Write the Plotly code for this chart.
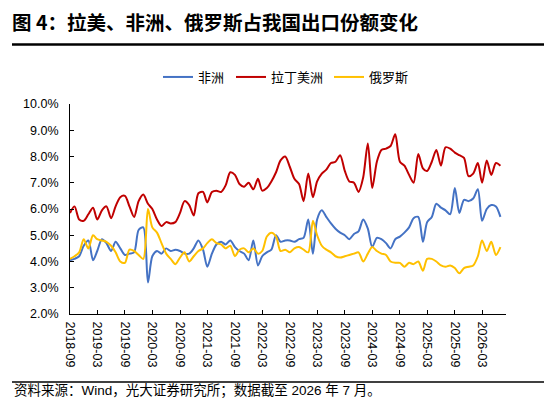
import pandas as pd
import plotly.graph_objects as go

# 占我国出口份额（%），月度，2018-09 至 2026-07
africa = [4.05, 4.1, 4.2, 4.6, 4.8, 4.05, 4.4, 4.85, 4.7, 4.4, 4.75, 4.5, 4.25, 4.3, 4.35, 5.2, 5.3, 3.2, 4.2, 4.4, 4.3, 4.5, 4.4,
          4.45, 4.4, 4.3, 4.3, 4.5, 4.8, 4.45, 3.8, 4.3, 4.65, 4.75, 4.65, 4.8, 4.55, 4.4, 4.3, 4.05, 4.8, 3.85, 4.2, 4.35, 4.45, 5.0, 4.75, 4.8,
          4.8, 4.75, 4.85, 4.9, 5.6, 4.3, 5.6, 5.95, 5.7, 5.45, 5.25, 5.1, 5.0, 4.85, 5.05, 5.15, 5.6, 5.25, 4.55, 4.9, 4.85, 4.7, 4.5, 4.85,
          4.95, 5.1, 5.3, 5.65, 5.7, 4.75, 5.5, 5.7, 6.2, 6.05, 5.95, 5.8, 6.8, 5.85, 6.35, 6.3, 6.4, 6.75, 5.55, 6.0, 6.15, 6.1, 5.7]
latam = [5.85, 6.1, 5.6, 5.55, 5.8, 6.05, 5.6, 5.95, 6.1, 5.65, 6.1, 6.45, 6.5, 6.1, 5.7, 6.3, 6.55, 6.2, 6.0, 5.6, 5.35, 5.5, 5.45,
         5.5, 5.85, 6.3, 6.15, 5.75, 6.6, 6.65, 6.25, 6.65, 6.7, 6.65, 6.9, 7.4, 7.3, 6.95, 6.85, 7.0, 6.75, 7.15, 6.7, 6.8, 7.05, 7.4, 7.85, 8.0,
         7.6, 7.15, 6.95, 6.3, 7.35, 6.45, 7.05, 7.35, 7.5, 7.75, 7.8, 8.05, 7.45, 7.05, 7.0, 6.65, 7.2, 8.5, 6.8, 7.8, 8.25, 8.3, 8.4, 8.85,
         7.8, 7.65, 7.3, 7.0, 8.1, 7.55, 7.45, 7.8, 8.25, 7.65, 8.35, 8.3, 8.15, 8.05, 7.95, 7.25, 7.35, 7.75, 7.0, 7.85, 7.3, 7.75, 7.65]
russia = [4.1, 4.2, 4.35, 4.85, 4.5, 5.0, 4.85, 4.8, 4.75, 4.6, 4.35, 4.0, 3.95, 4.45, 4.4, 4.25, 4.1, 6.0, 5.3, 5.1, 4.7, 4.3, 4.1, 3.9,
          4.15, 4.35, 4.0, 4.2, 4.4, 4.5, 4.7, 4.85, 4.7, 4.65, 4.5, 4.6, 4.2, 4.45, 4.5, 4.35, 4.5, 4.3, 4.4, 4.95, 5.1, 4.95, 4.4, 4.45,
          4.35, 4.5, 4.55, 4.45, 4.35, 5.55, 5.0, 4.6, 4.45, 4.35, 4.2, 4.15, 4.2, 4.25, 4.3, 4.35, 4.0, 4.3, 4.55, 4.4, 4.3, 4.25, 4.0, 3.95,
          3.95, 3.8, 3.95, 3.9, 4.0, 3.65, 4.1, 4.1, 4.0, 3.85, 3.8, 3.85, 3.75, 3.55, 3.75, 3.8, 3.85, 4.2, 4.8, 4.4, 4.75, 4.25, 4.55]

months = pd.date_range("2018-09-01", periods=len(africa), freq="MS")

series_names = ["非洲", "拉丁美洲", "俄罗斯"]
series_colors = ["#4472C4", "#C00000", "#FFC000"]

title_text = "图 4：拉美、非洲、俄罗斯占我国出口份额变化"
source_text = "资料来源：Wind，光大证券研究所；数据截至 2026 年 7 月。"

FONT = "Liberation Sans, Arial, Noto Sans CJK SC"

# 页面 body 有 8px 外边距，图形整体缩小 8px，按参考图像素换算
OFF = 8
W, H = 552 - OFF, 412 - OFF
L, R, T, B = 70 - OFF, 46, 104 - OFF, 98
PW, PH = W - L - R, H - T - B


def px_x(px):
    return (px - 70) / PW


def px_y(py):
    return (314 - py) / PH


fig = go.Figure()
legend_ids = ["legend", "legend2", "legend3"]
legend_left = [158, 231, 329]  # 各图例项左缘（参考图像素）
for name, vals, color, lg in zip(series_names, [africa, latam, russia], series_colors, legend_ids):
    fig.add_trace(go.Scatter(
        x=months, y=vals, name=name, mode="lines", legend=lg,
        line=dict(color=color, width=2, shape="spline", smoothing=0.8),
    ))

for lg, left in zip(legend_ids, legend_left):
    fig.update_layout({lg: dict(
        orientation="h", x=px_x(left), xanchor="left", y=px_y(77), yanchor="middle",
        font=dict(family="Noto Sans CJK SC", size=13, color="#000000"), itemwidth=30,
        bgcolor="rgba(0,0,0,0)",
    )})

fig.update_layout(
    width=W, height=H,
    margin=dict(l=L, r=R, t=T, b=B),
    paper_bgcolor="white", plot_bgcolor="white",
    font=dict(family=FONT, size=12, color="#000000"),
    title=dict(
        text="<b>" + title_text + "</b>",
        x=(12 - OFF) / W, xanchor="left", xref="container",
        y=1 - (23 - OFF) / H, yanchor="middle", yref="container",
        font=dict(family="Noto Sans CJK SC", size=19.5, color="#000000"),
    ),
    showlegend=True,
)

fig.update_xaxes(
    type="date", range=["2018-09-01", "2026-08-07"],
    tick0="2018-09-01", dtick="M6", tickformat="%Y-%m", tickangle=90,
    showgrid=False, zeroline=False,
    showline=True, linecolor="#000000", linewidth=1,
    ticks="inside", ticklen=4, tickcolor="#000000",
    tickfont=dict(size=12.5), ticklabelstandoff=4,
)
fig.update_yaxes(
    range=[2, 10], dtick=1, tickformat=".1f", ticksuffix="%",
    showgrid=False, zeroline=False,
    showline=True, linecolor="#000000", linewidth=1,
    ticks="inside", ticklen=4, tickcolor="#000000",
    tickfont=dict(size=12.5), ticklabelstandoff=8,
)

# 标题下方粗线 与 资料来源上方细线
fig.add_shape(type="line", xref="paper", yref="paper",
              x0=px_x(12), x1=px_x(552), y0=px_y(44.5), y1=px_y(44.5),
              line=dict(color="#000000", width=2.5))
fig.add_shape(type="line", xref="paper", yref="paper",
              x0=px_x(12), x1=px_x(552), y0=px_y(382), y1=px_y(382),
              line=dict(color="#000000", width=1.5))

fig.add_annotation(
    text=source_text, xref="paper", yref="paper",
    x=px_x(12), xanchor="left", y=px_y(391), yanchor="middle",
    showarrow=False, font=dict(family=FONT, size=13.5, color="#000000"),
)

fig.write_html("out.html")
